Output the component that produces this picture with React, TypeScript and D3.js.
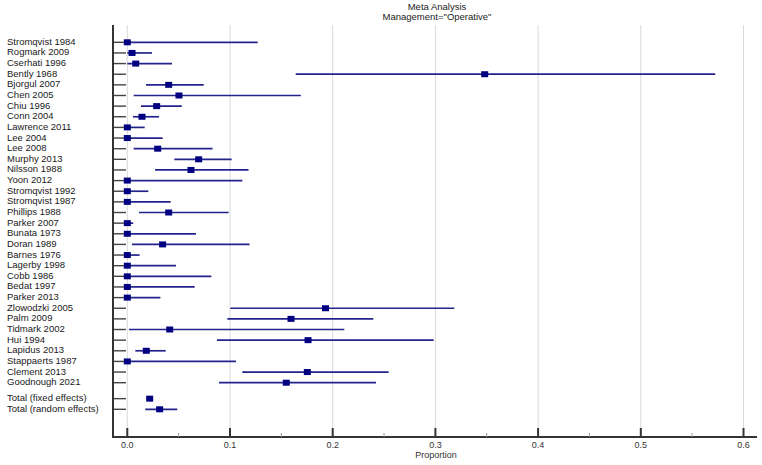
import React from "react";
import * as d3 from "d3";

// Study-level proportions with 95% confidence intervals
const studies = [
  "Stromqvist 1984", "Rogmark 2009", "Cserhati 1996", "Bently 1968", "Bjorgul 2007",
  "Chen 2005", "Chiu 1996", "Conn 2004", "Lawrence 2011", "Lee 2004", "Lee 2008",
  "Murphy 2013", "Nilsson 1988", "Yoon 2012", "Stromqvist 1992", "Stromqvist 1987",
  "Phillips 1988", "Parker 2007", "Bunata 1973", "Doran 1989", "Barnes 1976",
  "Lagerby 1998", "Cobb 1986", "Bedat 1997", "Parker 2013", "Zlowodzki 2005",
  "Palm 2009", "Tidmark 2002", "Hui 1994", "Lapidus 2013", "Stappaerts 1987",
  "Clement 2013", "Goodnough 2021",
];
const estimates = [
  0.0, 0.0046, 0.0082, 0.348, 0.0403,
  0.0503, 0.0286, 0.0143, 0.0, 0.0, 0.0296,
  0.0695, 0.062, 0.0, 0.0, 0.0,
  0.0403, 0.0, 0.0, 0.0344, 0.0,
  0.0, 0.0, 0.0, 0.0, 0.193,
  0.1594, 0.0413, 0.176, 0.0185, 0.0,
  0.1753, 0.1548,
];
const lower = [
  0.0, 0.0, 0.0, 0.164, 0.0182,
  0.0062, 0.0133, 0.0055, 0.0, 0.0, 0.0062,
  0.0458, 0.027, 0.0, 0.0, 0.0,
  0.0114, 0.0, 0.0, 0.0046, 0.0,
  0.0, 0.0, 0.0, 0.0, 0.1003,
  0.0974, 0.0017, 0.0873, 0.0078, 0.0,
  0.112, 0.0893,
];
const upper = [
  0.127, 0.024, 0.0435, 0.5725, 0.0744,
  0.169, 0.053, 0.0309, 0.0169, 0.0344, 0.083,
  0.1016, 0.118, 0.112, 0.0205, 0.0422,
  0.0987, 0.0058, 0.0669, 0.119, 0.012,
  0.0474, 0.0818, 0.0656, 0.0322, 0.3184,
  0.2395, 0.2113, 0.2983, 0.0374, 0.1058,
  0.2545, 0.2422,
];

// Pooled estimates
const totalLabels = ["Total (fixed effects)", "Total (random effects)"];
const totalEstimates = [0.0218, 0.0315];
const totalLower = [0.019, 0.0175];
const totalUpper = [0.025, 0.0487];
const totalRows = [33.5, 34.5];

const xTicks = [0, 0.1, 0.2, 0.3, 0.4, 0.5, 0.6];
const xMinorTicks = [0.05, 0.15, 0.25, 0.35, 0.45, 0.55];

const W = 762;
const H = 465;
const axisX = 113;
const axisTop = 25;
const axisBottom = 437;
const axisRight = 757;

const FONT = "'Liberation Sans', Arial, sans-serif";
const LINE = "#23238c";
const BOX = "#000080";

export default function App() {
  const x = d3.scaleLinear().domain([0, 0.6]).range([127.3, 743.5]);
  const y = d3.scaleLinear().domain([0, 32]).range([42.3, 382.7]);

  const rows = [
    ...studies.map((name, i) => ({
      name, row: i, est: estimates[i], lo: lower[i], hi: upper[i],
    })),
    ...totalLabels.map((name, i) => ({
      name, row: totalRows[i], est: totalEstimates[i], lo: totalLower[i], hi: totalUpper[i],
    })),
  ];

  const bw = 7;
  const bh = 6;

  return (
    <svg
      width={W}
      height={H}
      style={{ position: "absolute", left: 0, top: 0, background: "#fff" }}
      fontFamily={FONT}
    >
      {/* title */}
      <text x={437} y={7.5} textAnchor="middle" dominantBaseline="middle" fontSize={9.5} fill="#222">
        Meta Analysis
      </text>
      <text x={437} y={17.5} textAnchor="middle" dominantBaseline="middle" fontSize={9.5} fill="#222">
        Management="Operative"
      </text>

      {/* vertical gridlines */}
      {xTicks.map((t) => (
        <line key={"g" + t} x1={x(t)} x2={x(t)} y1={axisTop} y2={axisBottom} stroke="#d9d9d9" strokeWidth={1} />
      ))}

      {/* row ticks on the y axis */}
      {rows.map((r) => (
        <line key={"rt" + r.name} x1={axisX} x2={126} y1={y(r.row)} y2={y(r.row)} stroke="#444" strokeWidth={1.4} />
      ))}

      {/* study labels */}
      {rows.map((r) => (
        <text key={"l" + r.name} x={7} y={y(r.row)} dominantBaseline="middle" fontSize={9.5} fill="#1a1a1a">
          {r.name}
        </text>
      ))}

      {/* confidence intervals and point estimates */}
      {rows.map((r) => (
        <g key={"m" + r.name}>
          <line x1={x(r.lo)} x2={x(r.hi)} y1={y(r.row)} y2={y(r.row)} stroke={LINE} strokeWidth={1.7} />
          <rect x={x(r.est) - bw / 2} y={y(r.row) - bh / 2} width={bw} height={bh} fill={BOX} />
        </g>
      ))}

      {/* axes */}
      <line x1={axisX} x2={axisX} y1={axisTop} y2={axisBottom} stroke="#333" strokeWidth={2} />
      <line x1={axisX - 1} x2={axisRight} y1={axisBottom} y2={axisBottom} stroke="#333" strokeWidth={2} />
      {xTicks.map((t) => (
        <line key={"t" + t} x1={x(t)} x2={x(t)} y1={axisBottom} y2={axisBottom - 9} stroke="#333" strokeWidth={2} />
      ))}
      {xMinorTicks.map((t) => (
        <line key={"mt" + t} x1={x(t)} x2={x(t)} y1={axisBottom} y2={axisBottom - 4} stroke="#999" strokeWidth={1} />
      ))}
      {xTicks.map((t) => (
        <text key={"tl" + t} x={x(t)} y={445.5} textAnchor="middle" dominantBaseline="middle" fontSize={9} fill="#333">
          {d3.format(".1f")(t)}
        </text>
      ))}
      <text x={436} y={456} textAnchor="middle" dominantBaseline="middle" fontSize={9} fill="#333">
        Proportion
      </text>
    </svg>
  );
}
